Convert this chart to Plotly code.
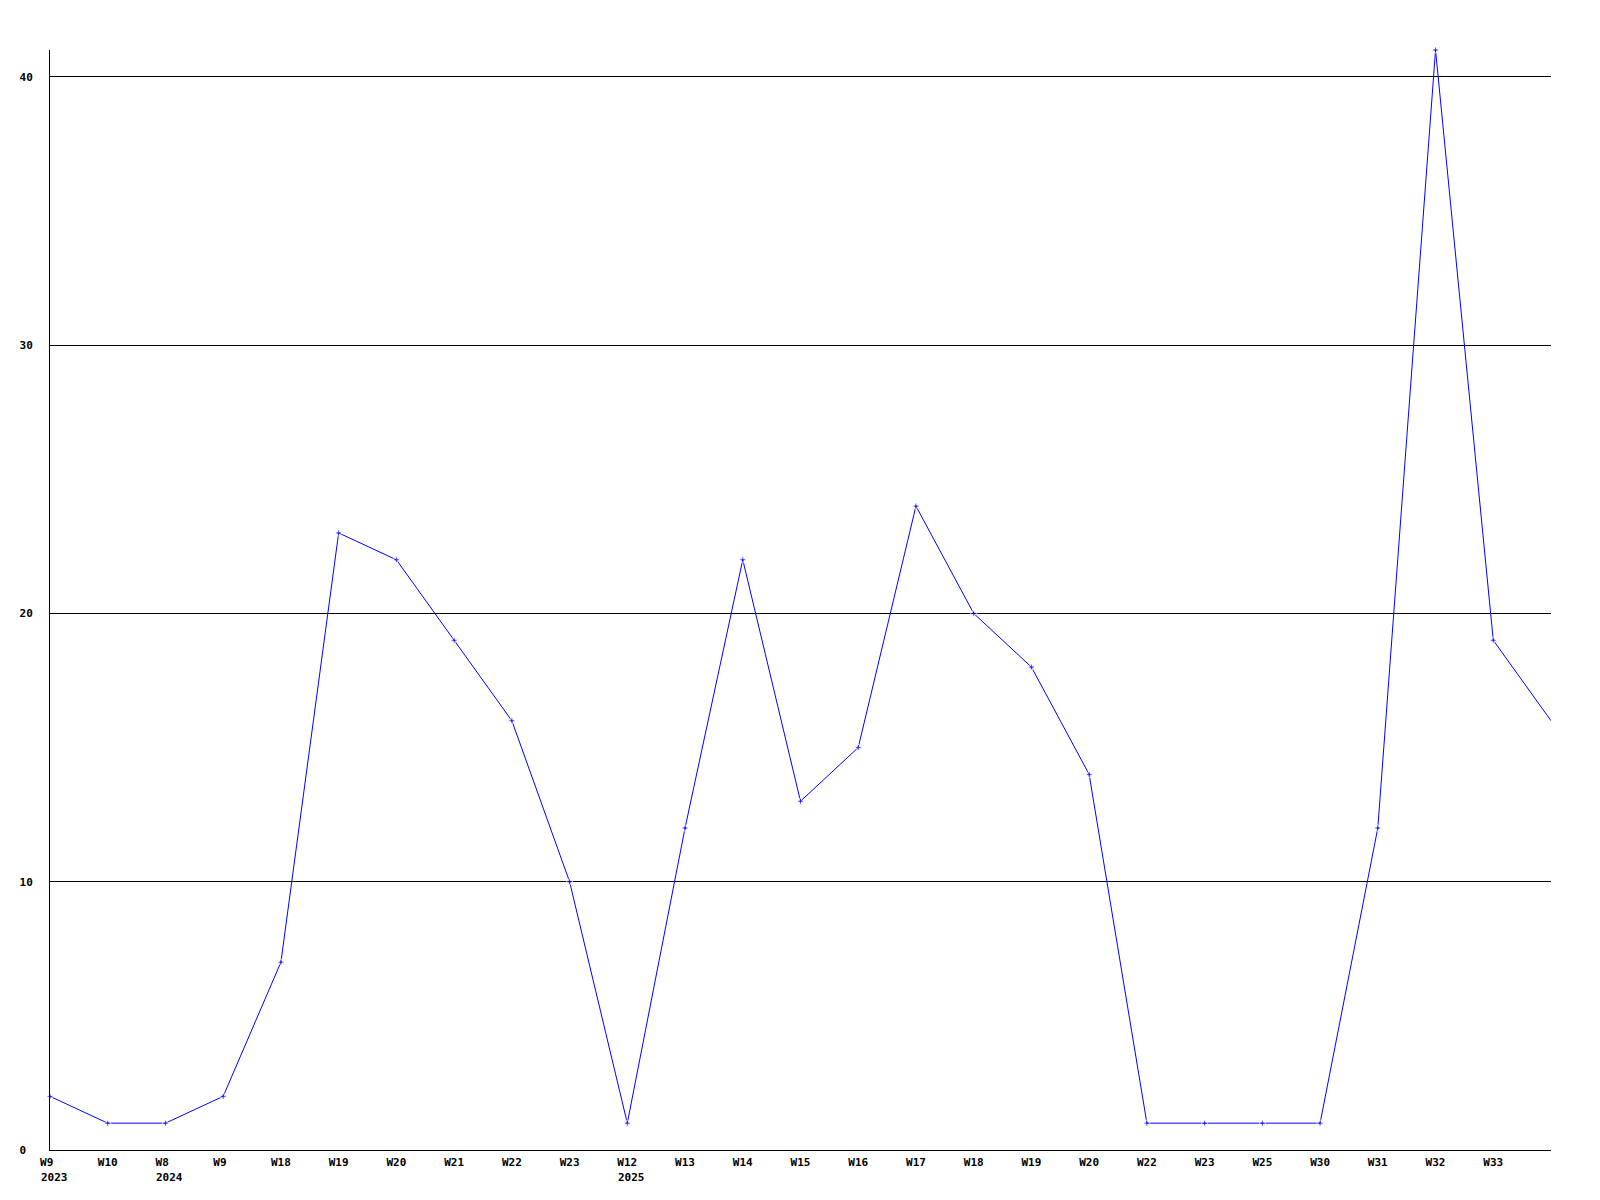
import plotly.graph_objects as go

week_labels = ["W9", "W10", "W8", "W9", "W18", "W19", "W20", "W21", "W22", "W23",
               "W12", "W13", "W14", "W15", "W16", "W17", "W18", "W19", "W20", "W22",
               "W23", "W25", "W30", "W31", "W32", "W33", ""]
year_labels = ["2023", "", "2024", "", "", "", "", "", "", "",
               "2025", "", "", "", "", "", "", "", "", "",
               "", "", "", "", "", "", ""]
values = [2, 1, 1, 2, 7, 23, 22, 19, 16, 10,
          1, 12, 22, 13, 15, 24, 20, 18, 14, 1,
          1, 1, 1, 12, 41, 19, 16]
y_ticks = [0, 10, 20, 30, 40]

FONT = dict(family="DejaVu Sans Mono", size=11, color="black", weight="bold")

n = len(values)
xs = list(range(n))
marker_sizes = [5] * (n - 1) + [0]

fig = go.Figure()
fig.add_trace(go.Scatter(
    x=xs, y=values, mode="lines+markers",
    line=dict(color="#0000ff", width=1),
    marker=dict(color="#0000ff", size=marker_sizes, symbol="cross"),
    hoverinfo="skip", cliponaxis=False,
))

tick_text = [w + "\u00a0" * (3 - len(w)) if w else "" for w in week_labels]

for i, yl in enumerate(year_labels):
    if yl:
        fig.add_annotation(x=i, xref="x", y=0, yref="paper", text=yl,
                           showarrow=False, xanchor="left", yanchor="top",
                           xshift=-11, yshift=-19, font=FONT)

fig.update_layout(
    width=1600, height=1200,
    margin=dict(l=42, r=57, t=42, b=58, pad=0, autoexpand=False),
    paper_bgcolor="white", plot_bgcolor="white",
    showlegend=False,
    font=FONT,
)
fig.update_xaxes(
    range=[0, n - 1], tickmode="array", tickvals=xs[:-1], ticktext=tick_text[:-1],
    showgrid=False, zeroline=False, showline=True, linecolor="black", linewidth=1,
    ticks="", tickfont=FONT, tickangle=0, ticklabelstandoff=2,
)
fig.update_yaxes(
    range=[0, 41], tickmode="array", tickvals=y_ticks,
    ticktext=[str(v) + "\u00a0" * (2 - len(str(v))) for v in y_ticks],
    showgrid=True, gridcolor="black", gridwidth=1, zeroline=False,
    showline=True, linecolor="black", linewidth=1, ticks="", tickfont=FONT,
    ticklabelstandoff=14,
)

fig.write_html("out.html")
